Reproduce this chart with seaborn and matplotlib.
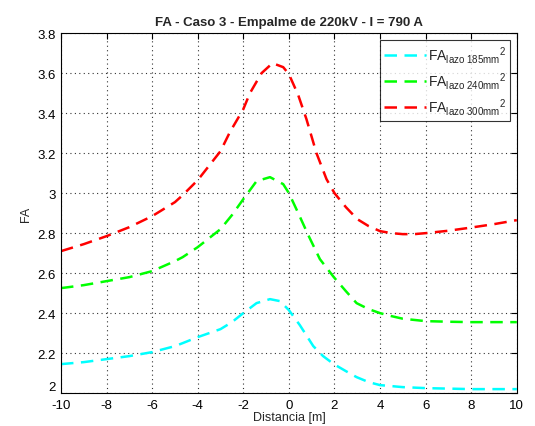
import matplotlib
matplotlib.use('Agg')
import matplotlib.pyplot as plt
import seaborn as sns
import pandas as pd

# distancia [m] y FA
x_185 = [-10, -9, -8, -7, -6, -5, -4.66, -4, -3, -2.5, -2, -1.42, -0.83, -0.39, 0, 0.48, 1.07,
         1.5, 1.97, 2.5, 2.97, 3.5, 4, 5, 6, 8, 10]
fa_185 = [2.145, 2.155, 2.17, 2.185, 2.205, 2.235, 2.25, 2.28, 2.32, 2.355, 2.40, 2.45, 2.47, 2.46,
          2.415, 2.34, 2.235, 2.185, 2.145, 2.11, 2.08, 2.055, 2.04, 2.03, 2.025, 2.02, 2.02]

x_240 = [-10, -9, -8, -7, -6, -5, -4.66, -4, -3, -2.5, -2, -1.42, -0.83, -0.25, 0, 0.41, 0.85,
         1.36, 1.97, 2.5, 2.97, 3.5, 4, 4.5, 5, 6, 7, 8, 10]
fa_240 = [2.525, 2.54, 2.56, 2.58, 2.61, 2.66, 2.68, 2.73, 2.82, 2.89, 2.97, 3.06, 3.08, 3.045,
          3.0, 2.90, 2.79, 2.67, 2.58, 2.51, 2.45, 2.42, 2.40, 2.385, 2.372, 2.36, 2.357, 2.355, 2.355]

x_300 = [-10, -9, -8, -7, -6, -5, -4.66, -4, -3, -2.59, -2, -1.71, -1.2, -0.72, -0.25, 0, 0.41,
         0.77, 1.21, 1.65, 2, 2.5, 3, 3.5, 4, 4.5, 5, 5.5, 6, 7, 8, 9, 10]
fa_300 = [2.71, 2.745, 2.785, 2.83, 2.885, 2.955, 2.99, 3.065, 3.21, 3.305, 3.42, 3.50, 3.60, 3.65,
          3.63, 3.595, 3.49, 3.37, 3.20, 3.07, 3.0, 2.93, 2.87, 2.835, 2.81, 2.80, 2.795, 2.795,
          2.80, 2.812, 2.828, 2.845, 2.865]

etiquetas = [r'FA$_{\rm lazo\ 185mm}$$^{2}$', r'FA$_{\rm lazo\ 240mm}$$^{2}$', r'FA$_{\rm lazo\ 300mm}$$^{2}$']
colores = ['#00ffff', '#00ff00', '#ff0000']

df = pd.concat([
    pd.DataFrame({'x': x_185, 'fa': fa_185, 'serie': etiquetas[0]}),
    pd.DataFrame({'x': x_240, 'fa': fa_240, 'serie': etiquetas[1]}),
    pd.DataFrame({'x': x_300, 'fa': fa_300, 'serie': etiquetas[2]}),
])

sns.set_style('white')
plt.rcParams['font.family'] = ['Liberation Sans', 'DejaVu Sans']
plt.rcParams['mathtext.fontset'] = 'custom'
plt.rcParams['mathtext.rm'] = 'Liberation Sans'
plt.rcParams['mathtext.it'] = 'Liberation Sans'
plt.rcParams['axes.unicode_minus'] = False
plt.rcParams['xtick.direction'] = 'in'
plt.rcParams['ytick.direction'] = 'in'

fig = plt.figure(figsize=(5.35, 4.27), dpi=100)
ax = fig.add_axes([0.114, 0.077, 0.852, 0.843])

sns.lineplot(data=df, x='x', y='fa', hue='serie', palette=colores, ax=ax,
             linewidth=1.8, estimator=None, sort=False)
for ln in ax.get_lines():
    ln.set_dashes([5, 3])

ax.set_xlim(-10, 10)
ax.set_ylim(2, 3.8)
ax.set_xticks(range(-10, 11, 2))
ax.set_yticks([2, 2.2, 2.4, 2.6, 2.8, 3, 3.2, 3.4, 3.6, 3.8])
ax.set_yticklabels(['2', '2.2', '2.4', '2.6', '2.8', '3', '3.2', '3.4', '3.6', '3.8'])
ax.get_yticklabels()[0].set_va('bottom')
ax.tick_params(labelsize=9.5, length=4, width=0.8, top=True, right=True, colors='black')
ax.tick_params(axis='x', pad=4)
ax.grid(True, linestyle=(0, (1, 3)), color='#333333', linewidth=0.8)
for s in ax.spines.values():
    s.set_color('black')
    s.set_linewidth(0.8)

ax.set_xlabel('Distancia [m]', fontsize=9, labelpad=0)
ax.set_ylabel('FA', fontsize=9, labelpad=4)
ax.set_title('FA - Caso 3 - Empalme de 220kV - I = 790 A', fontsize=9.5, fontweight='bold', pad=6)

leg = ax.legend(loc='upper right', fontsize=10, frameon=True, fancybox=False,
                edgecolor='black', handlelength=3.0, handletextpad=0.1,
                borderaxespad=0.5, labelspacing=0.35, borderpad=0.3)
leg.get_frame().set_linewidth(0.8)
for h in leg.get_lines():
    h.set_dashes([5, 3])
    h.set_linewidth(1.8)

fig.savefig('out.png', dpi=100, facecolor='white')
